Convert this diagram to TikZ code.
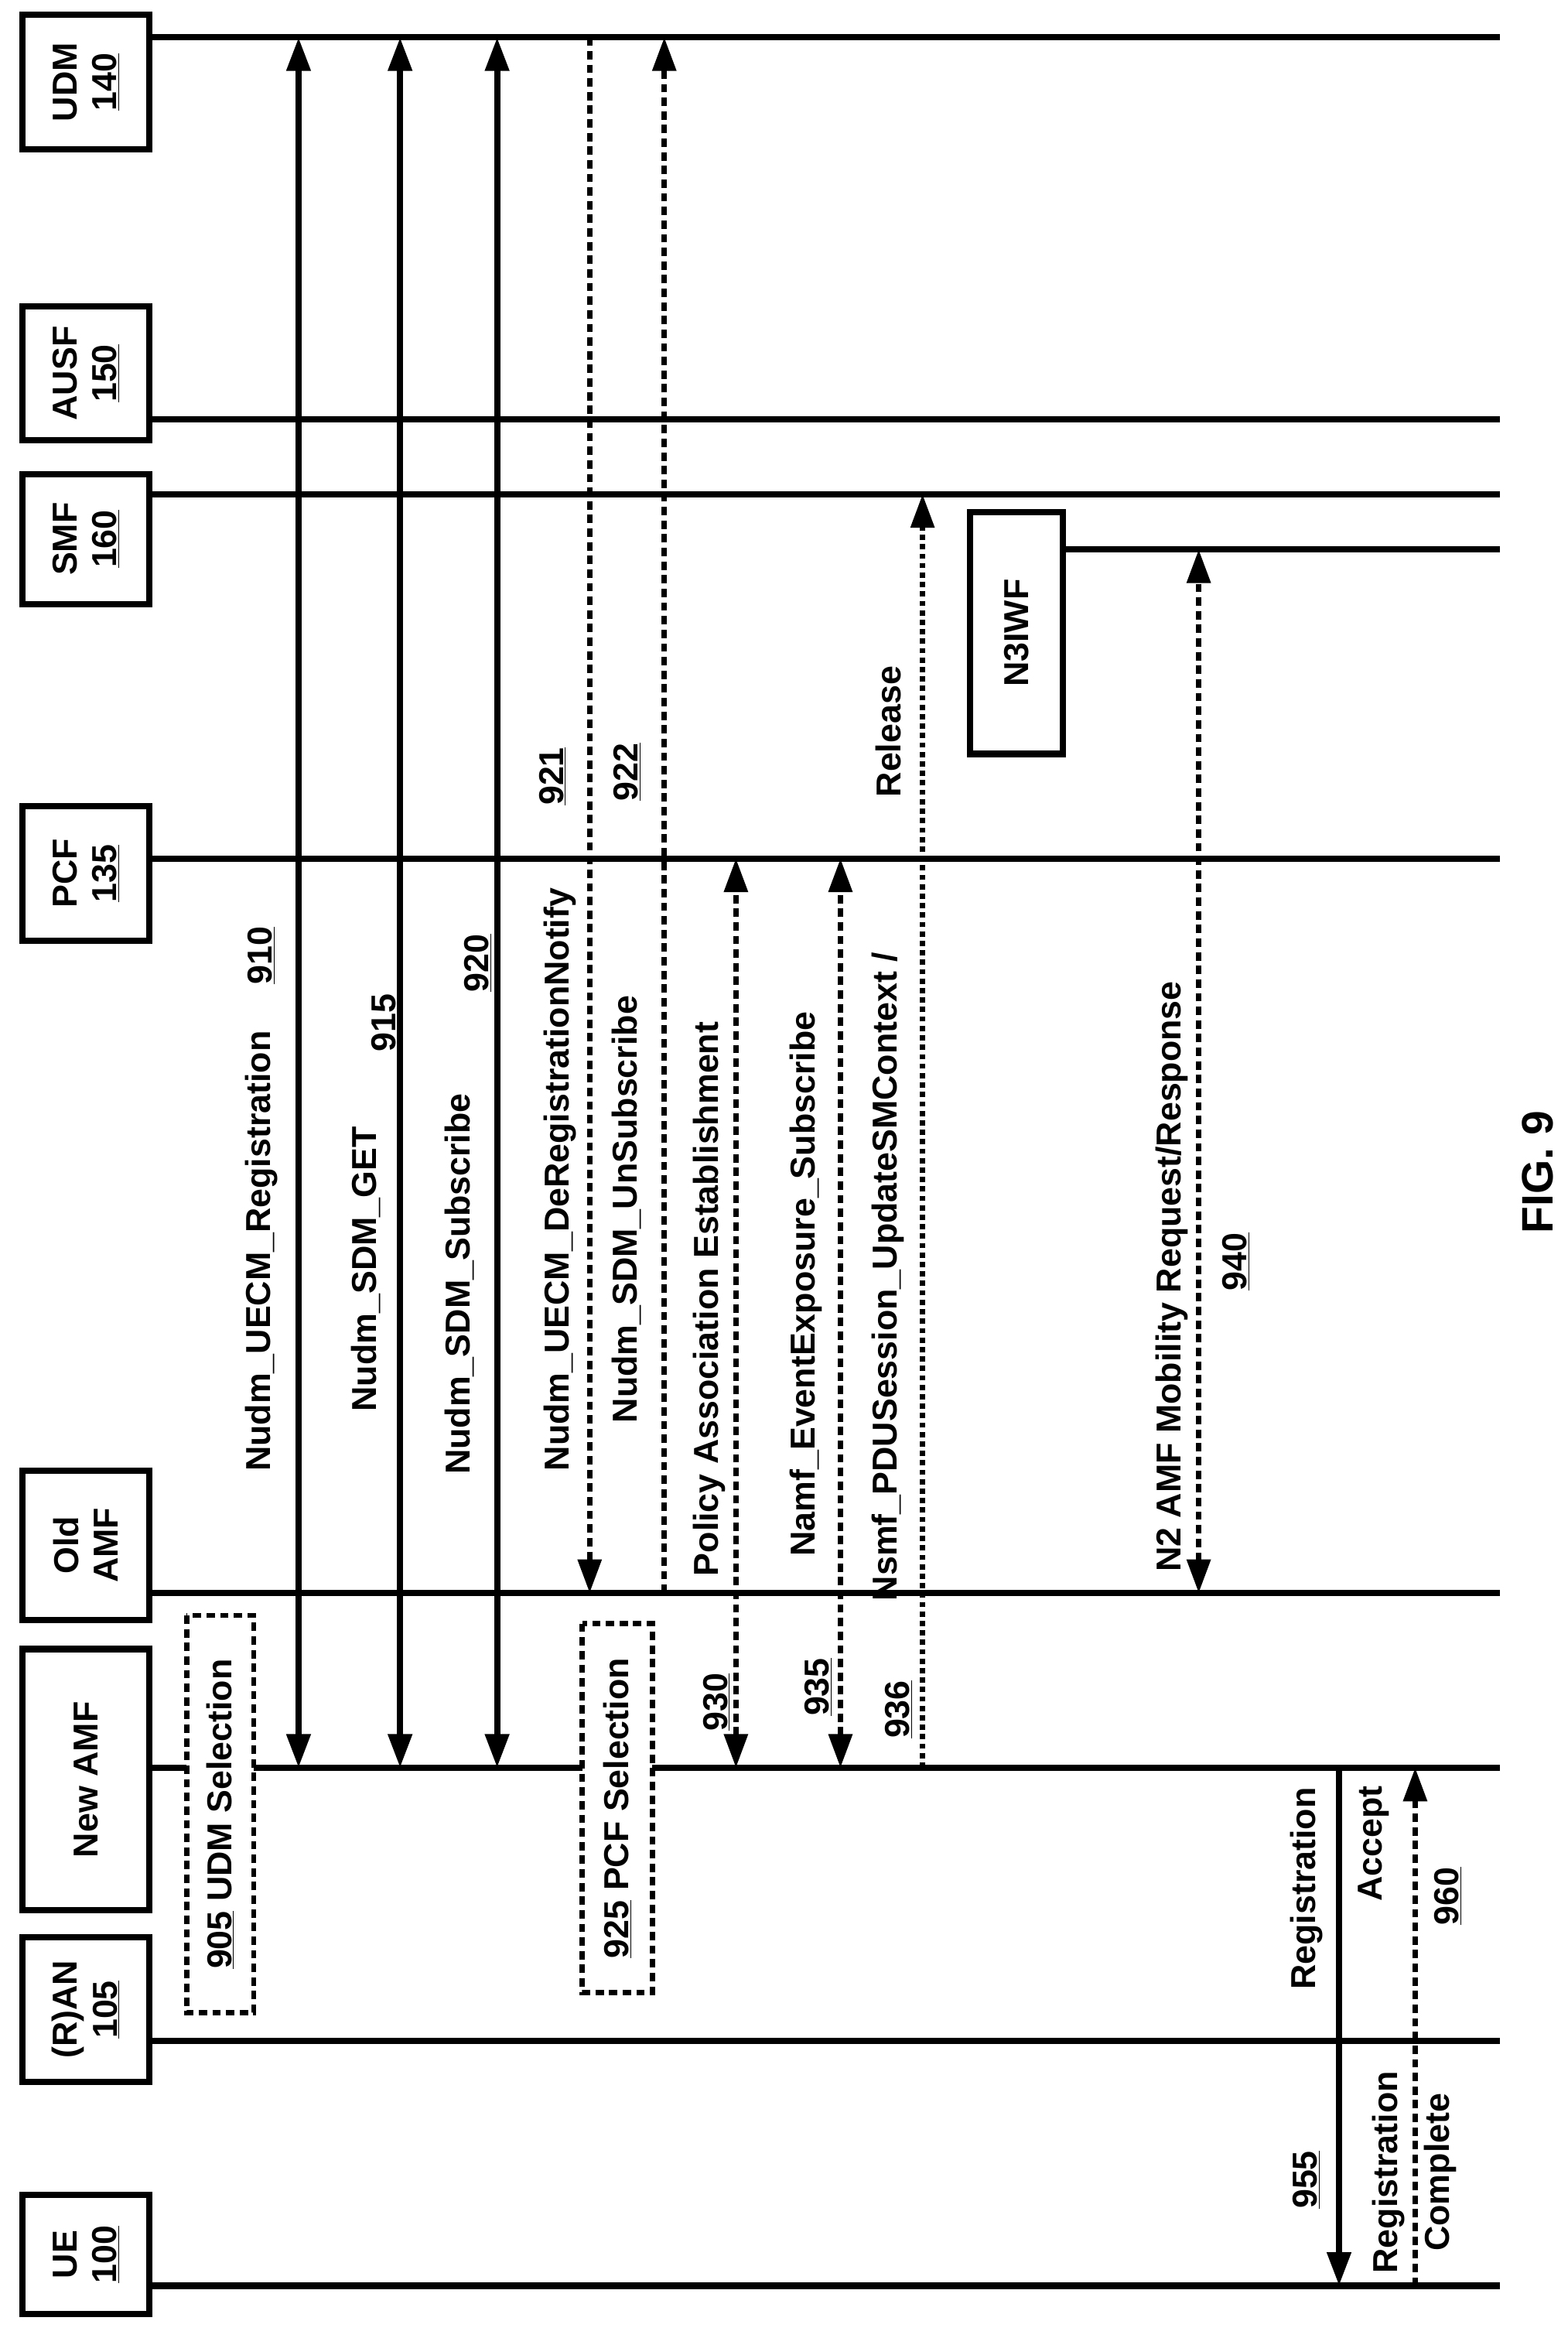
\documentclass[tikz,border=0pt]{standalone}
\usepackage{fontspec}
\setmainfont{Liberation Sans}
\usetikzlibrary{arrows.meta}
\begin{document}
\begin{tikzpicture}[x=0.05cm,y=-0.05cm,
  every node/.style={font=\fontsize{33}{38}\selectfont\bfseries},
  box/.style={draw,line width=6pt,rotate=90,align=center,inner sep=0pt},
  life/.style={line width=6pt},
  tip/.style={-{Triangle[length=32pt,width=22pt]}},
  both/.style={{Triangle[length=32pt,width=22pt]}-{Triangle[length=32pt,width=22pt]}},
  msg/.style={line width=6pt},
  dsh/.style={line width=5pt,dash pattern=on 8pt off 5pt},
  dot/.style={line width=5pt,dash pattern=on 5pt off 4pt},
  sel/.style={draw,line width=5pt,dash pattern=on 8pt off 5pt,rotate=90,inner sep=0pt},
  lab/.style={rotate=90,anchor=center}]
\useasboundingbox (0,0) rectangle (1050,1566);
\node[box,minimum width=90*0.05cm,minimum height=85*0.05cm] (udm) at (57.5,55) {UDM\\\underline{140}};
\node[box,minimum width=90*0.05cm,minimum height=85*0.05cm] (ausf) at (57.5,250) {AUSF\\\underline{150}};
\node[box,minimum width=87*0.05cm,minimum height=85*0.05cm] (smf) at (57.5,361) {SMF\\\underline{160}};
\node[box,minimum width=90*0.05cm,minimum height=85*0.05cm] (pcf) at (57.5,585) {PCF\\\underline{135}};
\node[box,minimum width=100*0.05cm,minimum height=85*0.05cm] (old) at (57.5,1035) {Old\\AMF};
\node[box,minimum width=175*0.05cm,minimum height=85*0.05cm] (new) at (57.5,1192) {New AMF};
\node[box,minimum width=97*0.05cm,minimum height=85*0.05cm] (ran) at (57.5,1346) {(R)AN\\\underline{105}};
\node[box,minimum width=80*0.05cm,minimum height=85*0.05cm] (ue) at (57.5,1510) {UE\\\underline{100}};
\node[box,minimum width=162*0.05cm,minimum height=62*0.05cm] (n3) at (681,424) {N3IWF};
% lifelines
\coordinate (udmA) at (100,25); \coordinate (udmB) at (1005,25);
\coordinate (ausfA) at (100,281); \coordinate (ausfB) at (1005,281);
\coordinate (smfA) at (100,331); \coordinate (smfB) at (1005,331);
\coordinate (pcfA) at (100,575); \coordinate (pcfB) at (1005,575);
\coordinate (oldA) at (100,1067); \coordinate (oldB) at (1005,1067);
\coordinate (newA) at (100,1184); \coordinate (newB) at (1005,1184);
\coordinate (ranA) at (100,1367); \coordinate (ranB) at (1005,1367);
\coordinate (ueA) at (100,1531); \coordinate (ueB) at (1005,1531);
\coordinate (n3A) at (712,368); \coordinate (n3B) at (1005,368);
\foreach \l in {udm,ausf,smf,pcf,old,new,ran,ue,n3} \draw[life] (\l A) -- (\l B);
% selection boxes
\node[sel,minimum width=266*0.05cm,minimum height=45*0.05cm,fill=white] (s905) at (147.5,1215) {};
\node[lab] at (147.5,1215) {\underline{905} UDM Selection};
\node[sel,minimum width=247*0.05cm,minimum height=47*0.05cm,fill=white] (s925) at (413.5,1211) {};
\node[lab] at (413.5,1211) {\underline{925} PCF Selection};
% arrows
\coordinate (a910) at (200,1184); \coordinate (b910) at (200,25);
\coordinate (a915) at (268,1184); \coordinate (b915) at (268,25);
\coordinate (a920) at (333,1184); \coordinate (b920) at (333,25);
\coordinate (a921) at (395,25); \coordinate (b921) at (395,1067);
\coordinate (a922) at (445,1067); \coordinate (b922) at (445,25);
\coordinate (a930) at (493,1184); \coordinate (b930) at (493,575);
\coordinate (a935) at (563,1184); \coordinate (b935) at (563,575);
\coordinate (a936) at (618,1184); \coordinate (b936) at (618,331);
\coordinate (a940) at (803,1067); \coordinate (b940) at (803,368);
\coordinate (a955) at (897,1184); \coordinate (b955) at (897,1531);
\coordinate (a960) at (948,1531); \coordinate (b960) at (948,1184);
\draw[msg,both] (a910) -- (b910);
\draw[msg,both] (a915) -- (b915);
\draw[msg,both] (a920) -- (b920);
\draw[dsh,tip] (a921) -- (b921);
\draw[dsh,tip] (a922) -- (b922);
\draw[dsh,both] (a930) -- (b930);
\draw[dsh,both] (a935) -- (b935);
\draw[dot,tip] (a936) -- (b936);
\draw[dsh,both] (a940) -- (b940);
\draw[msg,tip] (a955) -- (b955);
\draw[dsh,tip] (a960) -- (b960);
% labels
\node[lab] at (175,838) {Nudm\_UECM\_Registration};
\node[lab] at (175,640) {\underline{910}};
\node[lab] at (245,850) {Nudm\_SDM\_GET};
\node[lab] at (258,685) {\underline{915}};
\node[lab] at (308,860) {Nudm\_SDM\_Subscribe};
\node[lab] at (320,645) {\underline{920}};
\node[lab] at (375,790) {Nudm\_UECM\_DeRegistrationNotify};
\node[lab] at (370,520) {\underline{921}};
\node[lab] at (420,810) {Nudm\_SDM\_UnSubscribe};
\node[lab] at (420,517) {\underline{922}};
\node[lab] at (475,870) {Policy Association Establishment};
\node[lab] at (480,1140) {\underline{930}};
\node[lab] at (540,860) {Namf\_EventExposure\_Subscribe};
\node[lab] at (548,1130) {\underline{935}};
\node[lab] at (595,855) {Nsmf\_PDUSession\_UpdateSMContext /};
\node[lab] at (595,490) {Release};
\node[lab] at (602,1145) {\underline{936}};
\node[lab] at (785,855) {N2 AMF Mobility Request/Response};
\node[lab] at (828,845) {\underline{940}};
\node[lab] at (875,1265) {Registration};
\node[lab] at (920,1235) {Accept};
\node[lab] at (970,1270) {\underline{960}};
\node[lab] at (875,1460) {\underline{955}};
\node[lab] at (930,1455) {Registration};
\node[lab] at (965,1455) {Complete};
\node[lab,font=\fontsize{42}{48}\selectfont\bfseries] at (1030,785) {FIG. 9};
\end{tikzpicture}
\end{document}
